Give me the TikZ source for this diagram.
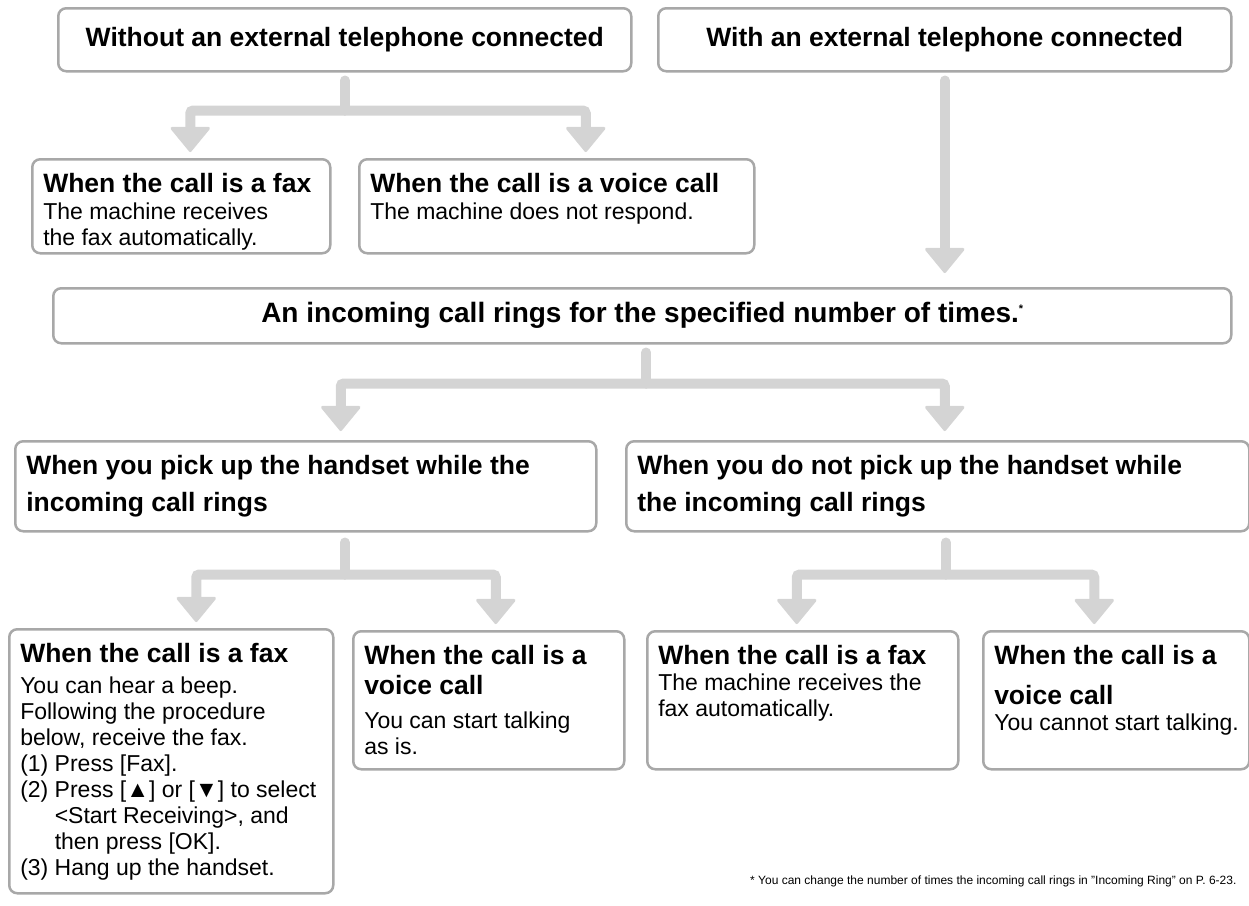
\documentclass[tikz,border=0pt]{standalone}
\usepackage{fontspec}
\setmainfont{Liberation Sans}
\usetikzlibrary{arrows.meta, positioning}
\definecolor{framegray}{RGB}{168, 168, 168}
\definecolor{flowgray}{RGB}{212, 212, 212}
\newcommand{\cardhead}{\fontsize{26.5}{31}\selectfont\bfseries}
\newcommand{\cardbody}{\fontsize{23}{26}\selectfont}

\tikzset{
  card/.style 2 args={draw=framegray, line width=2.5pt, rounded corners=8pt,
    anchor=north west, align=flush left, inner xsep=11pt, inner ysep=0pt,
    text width=#1, text height=33pt, text depth=#2},
  banner/.style={draw=framegray, line width=2.5pt, rounded corners=8pt,
    anchor=north west, inner sep=0pt, font=\cardhead},
  flowline/.style={draw=flowgray, line width=10pt, line cap=round, rounded corners=3pt},
  flowarrow/.style={flowline, shorten >=6pt,
    -{Triangle[width=42pt, length=26pt, line width=3pt, round]}},
}

\begin{document}
\begin{tikzpicture}[x=1pt, y=-1pt]
  \useasboundingbox (0,0) rectangle (1249,905);

  % top row
  \node[banner, minimum width=573pt, minimum height=63pt] (noext) at (57,7) {Without an external telephone connected};
  \node[banner, minimum width=573pt, minimum height=63pt] (withext) at (657,7) {With an external telephone connected};

  \node[card={276pt}{61pt}] (nofax) at (31,158)
    {{\cardhead When the call is a fax\par}\vspace{1pt}{\cardbody The machine receives\\the fax automatically.\par}};
  \node[card={373pt}{61pt}] (novoice) at (358,158)
    {{\cardhead When the call is a voice call\par}\vspace{1pt}{\cardbody The machine does not respond.\par}};

  \node[banner, minimum width=1178pt, minimum height=55pt] (rings) at (52,287)
    {\fontsize{28}{32}\selectfont An incoming call rings for the specified number of times.\raisebox{10pt}{\fontsize{11}{11}\selectfont *}};

  % second level
  \node[card={559pt}{57pt}] (pickup) at (14,440)
    {{\cardhead\fontsize{26.5}{37}\selectfont When you pick up the handset while the\\incoming call rings\par}};
  \node[card={601pt}{57pt}] (nopickup) at (625,440)
    {{\cardhead\fontsize{26.5}{37}\selectfont When you do not pick up the handset while\\the incoming call rings\par}};

  \node[card={302pt}{231pt}] (upfax) at (8,628)
    {{\cardhead When the call is a fax\par}\vspace{5pt}{\cardbody You can hear a beep.\\Following the procedure\\below, receive the fax.\\(1) Press [Fax].\\(2) Press [▲] or [▼] to select\\\hspace*{1.5em}<Start Receiving>, and\\\hspace*{1.5em}then press [OK].\\(3) Hang up the handset.\par}};
  \node[card={249pt}{105pt}] (upvoice) at (352,630)
    {{\cardhead\fontsize{26.5}{30}\selectfont When the call is a\\voice call\par}\vspace{8pt}{\cardbody You can start talking\\as is.\par}};
  \node[card={289pt}{105pt}] (downfax) at (646,630)
    {{\cardhead When the call is a fax\par}{\cardbody The machine receives the\\fax automatically.\par}};
  \node[card={244pt}{105pt}] (downvoice) at (982,630)
    {{\cardhead\fontsize{26.5}{40}\selectfont When the call is a\\voice call\par}{\cardbody\mbox{You cannot start talking.}\par}};

  \node[anchor=south east, font=\fontsize{12}{14}\selectfont] (note) at (1240,891)
    {* You can change the number of times the incoming call rings in "Incoming Ring" on P. 6-23.};

  % connectors
  \draw[flowline] ([yshift=-8pt]noext.south) -- ++(0,-30pt) coordinate (nosplit);
  \draw[flowarrow] (nosplit) -| ([xshift=9pt]nofax.north);
  \draw[flowarrow] (nosplit) -| ([xshift=29pt]novoice.north);

  \draw[flowarrow, shorten >=14pt] ([yshift=-8pt]withext.south) -- (withext.south |- rings.north);

  \draw[flowline] ([xshift=4pt,yshift=-8pt]rings.south) -- ++(0,-31pt) coordinate (ringsplit);
  \draw[flowarrow, shorten >=9pt] (ringsplit) -| ([xshift=35pt]pickup.north);
  \draw[flowarrow, shorten >=9pt] (ringsplit) -| ([xshift=7pt]nopickup.north);

  \draw[flowline] ([xshift=39pt,yshift=-10pt]pickup.south) -- ++(0,-32pt) coordinate (upsplit);
  \draw[flowarrow] (upsplit) -| ([xshift=25pt]upfax.north);
  \draw[flowarrow] (upsplit) -| ([xshift=7pt]upvoice.north);

  \draw[flowline] ([xshift=8pt,yshift=-10pt]nopickup.south) -- ++(0,-32pt) coordinate (downsplit);
  \draw[flowarrow] (downsplit) -| ([xshift=-6pt]downfax.north);
  \draw[flowarrow] (downsplit) -| ([xshift=-22pt]downvoice.north);
\end{tikzpicture}
\end{document}
